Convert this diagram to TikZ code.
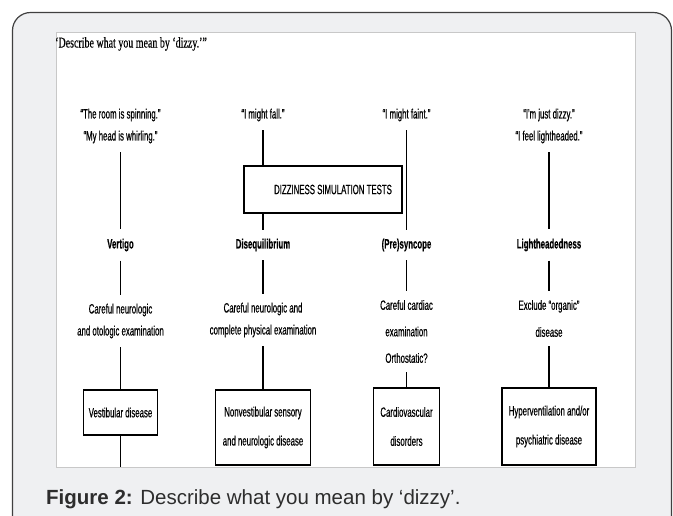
\documentclass[tikz,border=0pt]{standalone}
\usepackage{fontspec}
\setmainfont{Liberation Sans}
\newfontfamily\narrowfont[FakeStretch=0.58, FakeBold=0.4]{Liberation Sans}
\newfontfamily\titlefont[FakeStretch=0.665, FakeBold=0.3]{Liberation Serif}
\usetikzlibrary{backgrounds}

\definecolor{cardgray}{RGB}{239,240,242}
\definecolor{cardline}{RGB}{64,64,64}
\definecolor{panelline}{RGB}{200,200,200}
\definecolor{captext}{RGB}{45,45,45}

\begin{document}
\begin{tikzpicture}[x=1pt,y=-1pt]

	\tikzstyle{said}  = [font=\narrowfont\fontsize{13.5}{22}\selectfont, align=center, inner xsep=2pt, inner ysep=9pt]
	\tikzstyle{kind}  = [said, font=\narrowfont\fontsize{13.5}{22}\selectfont\bfseries]
	\tikzstyle{exam}  = [said]
	\tikzstyle{dx}    = [rectangle, draw=black, line width=1.7pt, font=\narrowfont\fontsize{13.5}{22}\selectfont, align=center, inner sep=2pt]
	\tikzstyle{test}  = [dx, line width=2.2pt, minimum height=47pt, minimum width=158pt]
	\tikzstyle{link}  = [line width=1.3pt]

	\useasboundingbox (0,0) rectangle (673,515);

	\node [anchor=base west, inner sep=0, font=\titlefont\fontsize{15}{17}\selectfont] (title) at (55,47.5) {‘Describe what you mean by ‘dizzy.’”};

	\node [said] (spin)  at (120.5,126) {“The room is spinning.”\\“My head is whirling.”};
	\node [said] (fall)  at (263,115)   {“I might fall.”};
	\node [said] (faint) at (406.5,115) {“I might faint.”};
	\node [said] (dizzy) at (549,126)   {“I'm just dizzy.”\\“I feel lightheaded.”};

	\node [test] (sim) at (323,189.5) {\hspace*{20pt}DIZZINESS SIMULATION TESTS};

	\node [kind] (vertigo) at (120.5,245) {Vertigo};
	\node [kind] (diseq)   at (263,245)   {Disequilibrium};
	\node [kind] (presync) at (406.5,245) {(Pre)syncope};
	\node [kind] (light)   at (549,245)   {Lightheadedness};

	\node [exam] (ex1) at (120.5,321) {Careful neurologic\\and otologic examination};
	\node [exam] (ex2) at (263,320)   {Careful neurologic and\\complete physical examination};
	\node [exam] (ex3) at (406.5,331.5) {Careful cardiac\\[4.5pt]examination\\[4.5pt]Orthostatic?};
	\node [exam] (ex4) at (549,318.5) {Exclude “organic”\\[5pt]disease};

	\node [dx, minimum width=74pt, minimum height=45pt] (vest)    at (120.5,412.5) {Vestibular disease};
	\node [dx, minimum width=95pt, minimum height=75pt] (nonvest) at (263,427.5)   {Nonvestibular sensory\\[7pt]and neurologic disease};
	\node [dx, minimum width=66pt, minimum height=77pt] (cardio)  at (406.5,426.5) {Cardiovascular\\[7pt]disorders};
	\node [dx, minimum width=94pt, minimum height=77pt] (hyper)   at (549,426.5)   {Hyperventilation and/or\\[7pt]psychiatric disease};

	\coordinate (cut1) at (120.5,467);

	\draw [link] (spin) -- (vertigo) -- (ex1) -- (vest) -- (cut1);
	\draw [link] (fall) -- (fall |- sim.north);
	\draw [link] (sim.south -| diseq) -- (diseq) -- (ex2) -- (nonvest);
	\draw [link] (faint) -- (presync) -- (ex3) -- (cardio);
	\draw [link] (dizzy) -- (light) -- (ex4) -- (hyper);

	\node [anchor=base west, inner sep=0, text=captext, font=\fontsize{20.5}{24}\selectfont] (caption) at (46,504) {\textbf{Figure 2:} Describe what you mean by ‘dizzy’.};

	\begin{pgfonlayer}{background}
		\draw [cardline, fill=cardgray, line width=1.2pt, rounded corners=18pt] (12.5,12.5) rectangle (671.5,535);
		\draw [panelline, fill=white, line width=0.8pt] (56,32) rectangle (635,467);
	\end{pgfonlayer}
\end{tikzpicture}
\end{document}
